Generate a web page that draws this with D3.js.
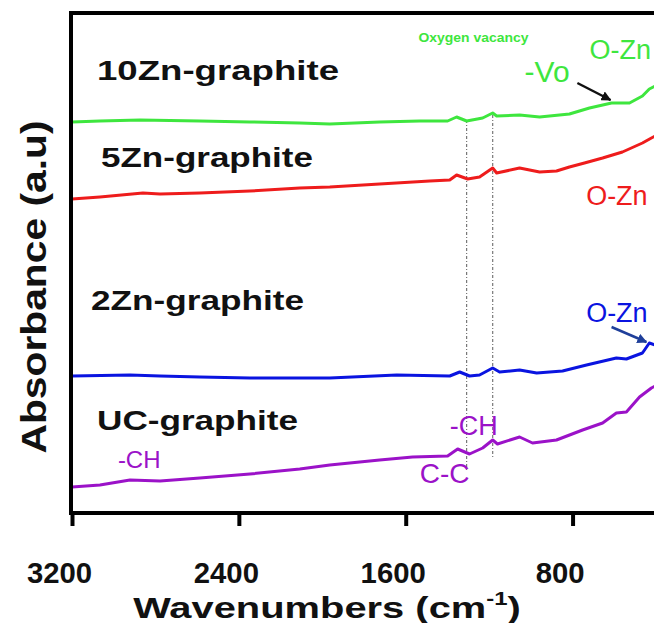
<!DOCTYPE html>
<html>
<head>
<meta charset="utf-8">
<script src="https://cdn.jsdelivr.net/npm/d3@7"></script>
<style>
  body { margin: 0; background: #fff; }
  svg { display: block; font-family: "Liberation Sans", Arial, sans-serif; }
</style>
</head>
<body>
<script>
// Wavenumber ticks
var xTicks = [3200, 2400, 1600, 800];

// spectra (wavenumber cm-1, absorbance a.u.)
var ucWave = [3200, 3066, 2922, 2778, 2587, 2347, 2108, 1964, 1725, 1567, 1399, 1351, 1294, 1231, 1183, 1160, 1054, 992, 877, 752, 656, 590, 542, 479, 422, 403];
var ucAbs  = [5.2, 5.6, 6.6, 6.4, 7.0, 7.8, 8.8, 9.6, 10.6, 11.2, 11.4, 12.8, 11.8, 13.0, 14.6, 13.8, 15.2, 14.0, 14.6, 16.6, 18.0, 20.0, 20.2, 23.2, 25.0, 25.4];

var zn2Wave = [3200, 2922, 2778, 2587, 2347, 2108, 1964, 1643, 1389, 1341, 1294, 1246, 1183, 1150, 1054, 972, 848, 733, 590, 542, 465, 432, 403];
var zn2Abs  = [27.4, 27.6, 27.4, 27.2, 27.0, 27.0, 27.0, 27.6, 27.4, 28.2, 27.4, 27.6, 29.0, 28.2, 28.6, 28.0, 28.4, 29.6, 31.0, 30.8, 32.0, 34.0, 33.6];

var zn5Wave = [3200, 3066, 2860, 2778, 2587, 2347, 2108, 1964, 1725, 1485, 1389, 1356, 1303, 1246, 1183, 1164, 1054, 958, 877, 815, 743, 656, 561, 465, 422, 403];
var zn5Abs  = [62.8, 63.2, 64.0, 63.8, 64.0, 64.4, 65.0, 65.2, 65.8, 66.4, 66.6, 67.6, 66.8, 67.2, 69.0, 68.0, 69.0, 68.2, 68.4, 69.2, 70.0, 71.0, 72.2, 74.0, 75.0, 75.4];

var zn10Wave = [3200, 3066, 2874, 2587, 2347, 2108, 1964, 1725, 1533, 1399, 1356, 1308, 1231, 1183, 1164, 1054, 958, 815, 719, 613, 527, 465, 432, 403];
var zn10Abs  = [78.2, 78.4, 78.6, 78.4, 78.2, 78.0, 77.8, 78.2, 78.4, 78.4, 79.2, 78.4, 79.0, 80.0, 79.4, 79.6, 79.2, 79.8, 81.0, 82.0, 82.0, 83.4, 84.8, 85.4];

// guide lines (Oxygen vacancy region)
var guideWave = [1308, 1183];
var guideTop  = [78.6, 79.6];
var guideBot  = [8.6, 11.0];

var seriesNames  = ['UC-graphite', '2Zn-graphite', '5Zn-graphite', '10Zn-graphite'];
var seriesColors = ['#9b12c8', '#0a14e0', '#ee1c1c', '#3ee63e'];

var w = 654, h = 623;
var margin = {left: 72, top: 13, right: 0, bottom: 110};
var x = d3.scaleLinear().domain([3200, 400]).range([margin.left, 656]);
var y = d3.scaleLinear().domain([0, 100]).range([h - margin.bottom, margin.top]);

var svg = d3.select('body').append('svg')
    .attr('width', w)
    .attr('height', h);

var series = [
    {name: seriesNames[0], color: seriesColors[0], wave: ucWave, abs: ucAbs},
    {name: seriesNames[1], color: seriesColors[1], wave: zn2Wave, abs: zn2Abs},
    {name: seriesNames[2], color: seriesColors[2], wave: zn5Wave, abs: zn5Abs},
    {name: seriesNames[3], color: seriesColors[3], wave: zn10Wave, abs: zn10Abs}
];

// dashed guides
svg.selectAll('.guide')
    .data(guideWave)
    .enter().append('line')
    .attr('class', 'guide')
    .attr('x1', function(d) { return x(d); })
    .attr('x2', function(d) { return x(d); })
    .attr('y1', function(d, i) { return y(guideTop[i]); })
    .attr('y2', function(d, i) { return y(guideBot[i]); })
    .attr('stroke', '#777')
    .attr('stroke-width', 1.2)
    .attr('stroke-dasharray', '3,2,1,2');

var line = d3.line()
    .x(function(d) { return x(d[0]); })
    .y(function(d) { return y(d[1]); })
    .curve(d3.curveLinear);

svg.selectAll('.spec')
    .data(series)
    .enter().append('path')
    .attr('class', 'spec')
    .attr('fill', 'none')
    .attr('stroke', function(d) { return d.color; })
    .attr('stroke-width', 3)
    .attr('stroke-linejoin', 'round')
    .attr('d', function(d) { return line(d.wave.map(function(v, i) { return [v, d.abs[i]]; })); });

// frame
svg.append('line')
    .attr('x1', margin.left - 2).attr('x2', w)
    .attr('y1', margin.top).attr('y2', margin.top)
    .attr('stroke', '#000').attr('stroke-width', 4);
svg.append('line')
    .attr('x1', margin.left - 1).attr('x2', margin.left - 1)
    .attr('y1', margin.top - 2).attr('y2', y(0))
    .attr('stroke', '#000').attr('stroke-width', 4);

var xAxis = d3.axisBottom(x).tickValues(xTicks).tickFormat(d3.format('d')).tickSize(13).tickSizeOuter(0);
var gx = svg.append('g')
    .attr('transform', 'translate(0,' + y(0) + ')')
    .call(xAxis);
gx.select('.domain').attr('stroke-width', 4).attr('d', 'M' + (margin.left - 3) + ',0H' + w);
gx.selectAll('.tick line').attr('stroke-width', 4);
gx.selectAll('.tick text')
    .attr('x', -13)
    .attr('y', 70)
    .attr('dy', 0)
    .attr('fill', '#111')
    .style('font-size', '30px')
    .style('font-weight', 'bold')
    .attr('textLength', function(d) { return String(d).length * 16.3; })
    .attr('lengthAdjust', 'spacingAndGlyphs');

// axis titles
var xt = svg.append('text')
    .attr('transform', 'translate(327,618) scale(1.33,1)')
    .attr('text-anchor', 'middle')
    .style('font-size', '30px')
    .style('font-weight', 'bold')
    .attr('fill', '#111');
xt.append('tspan').text('Wavenumbers (cm');
xt.append('tspan').text('-1').attr('dy', -13).style('font-size', '18px');
xt.append('tspan').text(')').attr('dy', 13);

svg.append('text')
    .attr('transform', 'translate(46,287) rotate(-90)')
    .attr('text-anchor', 'middle')
    .style('font-size', '35px')
    .style('font-weight', 'bold')
    .attr('fill', '#111')
    .attr('textLength', 333)
    .attr('lengthAdjust', 'spacingAndGlyphs')
    .text('Absorbance (a.u)');

// series labels
var labelPos = [[3080, 16.6, 201], [3109, 40.6, 213], [3061, 69.2, 212], [3080, 86.6, 242]];
svg.selectAll('.slabel')
    .data(series)
    .enter().append('text')
    .attr('class', 'slabel')
    .attr('x', function(d, i) { return x(labelPos[i][0]); })
    .attr('y', function(d, i) { return y(labelPos[i][1]); })
    .attr('textLength', function(d, i) { return labelPos[i][2]; })
    .attr('lengthAdjust', 'spacingAndGlyphs')
    .style('font-size', '28px')
    .style('font-weight', 'bold')
    .attr('fill', '#111')
    .text(function(d) { return d.name; });

// band annotations
var notes = [
    {t: 'Oxygen vacancy', wv: 1275, a: 94.2, c: '#3ee63e', fs: 13.5, bold: true, anchor: 'middle', len: 110},
    {t: '-Vo', wv: 1030, a: 86.2, c: '#3ee63e', fs: 30},
    {t: 'O-Zn', wv: 719, a: 90.8, c: '#3ee63e', fs: 27},
    {t: 'O-Zn', wv: 735, a: 61.6, c: '#ee1c1c', fs: 27},
    {t: 'O-Zn', wv: 735, a: 38.2, c: '#0a14e0', fs: 27},
    {t: '-CH', wv: 1389, a: 15.6, c: '#9b12c8', fs: 27},
    {t: 'C-C', wv: 1533, a: 6.0, c: '#9b12c8', fs: 28},
    {t: '-CH', wv: 2980, a: 9.0, c: '#9b12c8', fs: 24}
];
svg.selectAll('.note')
    .data(notes)
    .enter().append('text')
    .attr('class', 'note')
    .attr('x', function(d) { return x(d.wv); })
    .attr('y', function(d) { return y(d.a); })
    .attr('text-anchor', function(d) { return d.anchor || 'start'; })
    .attr('fill', function(d) { return d.c; })
    .style('font-size', function(d) { return d.fs + 'px'; })
    .style('font-weight', function(d) { return d.bold ? 'bold' : 'normal'; })
    .each(function(d) {
        if (d.len) d3.select(this).attr('textLength', d.len).attr('lengthAdjust', 'spacingAndGlyphs');
    })
    .text(function(d) { return d.t; });

// arrows
var defs = svg.append('defs');
[['ah-black', '#111'], ['ah-blue', '#1f3f9a']].forEach(function(m) {
    defs.append('marker')
        .attr('id', m[0])
        .attr('viewBox', '0 0 10 10')
        .attr('refX', 9).attr('refY', 5)
        .attr('markerWidth', 4).attr('markerHeight', 4)
        .attr('orient', 'auto')
        .append('path')
        .attr('d', 'M0,0L10,5L0,10z')
        .attr('fill', m[1]);
});
var arrows = [
    {from: [777, 86], to: [618, 82.6], c: '#111', m: 'ah-black'},
    {from: [613, 37.2], to: [446, 34.2], c: '#1f3f9a', m: 'ah-blue'}
];
svg.selectAll('.arrow')
    .data(arrows)
    .enter().append('line')
    .attr('class', 'arrow')
    .attr('x1', function(d) { return x(d.from[0]); })
    .attr('y1', function(d) { return y(d.from[1]); })
    .attr('x2', function(d) { return x(d.to[0]); })
    .attr('y2', function(d) { return y(d.to[1]); })
    .attr('stroke', function(d) { return d.c; })
    .attr('stroke-width', 2.5)
    .attr('marker-end', function(d) { return 'url(#' + d.m + ')'; });
</script>
</body>
</html>
